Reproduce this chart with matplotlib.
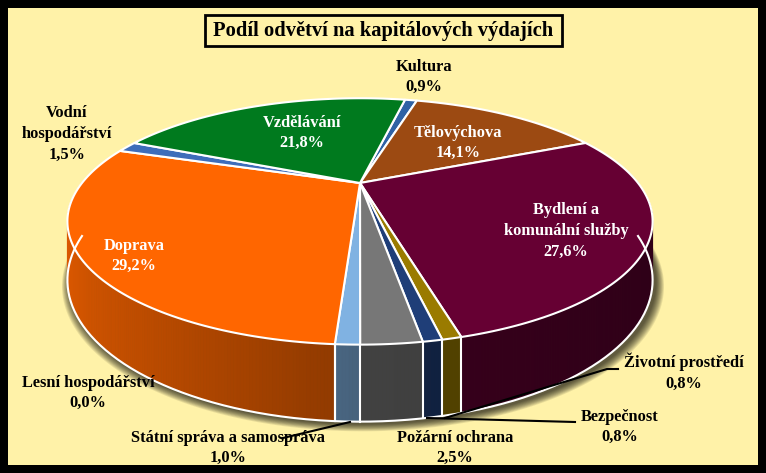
import numpy as np
import matplotlib.pyplot as plt
from matplotlib.patches import Polygon, Rectangle
from matplotlib.colors import to_rgb

# data, clockwise from the top
categories = ['Kultura', 'Tělovýchova', 'Bydlení a\nkomunální služby', 'Životní prostředí',
              'Bezpečnost', 'Požární ochrana', 'Státní správa a samospráva',
              'Lesní hospodářství', 'Doprava', 'Vodní\nhospodářství', 'Vzdělávání']
values = [0.9, 14.1, 27.6, 0.8, 0.8, 2.5, 1.0, 0.0, 29.2, 1.5, 21.8]
colors = ['#2F62A5', '#9C4A12', '#660033', '#9A7B00', '#1F3E78', '#777777',
          '#80B2E2', '#8DB3E2', '#FF6600', '#3E6DBA', '#007A1E']
title = 'Podíl odvětví na kapitálových výdajích'

# geometry of the tilted pie (pixels)
cx, cy, R, a, c, H = 360, 183, 278, 0.312, 0.40, 53
start = 12.2
bg = '#FFF2A8'
font = 'Liberation Serif'


def proj(phi, depth=0.0, r=R):
    p = np.radians(phi)
    w = 1 + a * np.cos(p)
    x = cx + r * np.sin(p) / w
    y = cy - c * r * np.cos(p) / w + depth * H / w
    return x, y


def shade(col, phi):
    s = np.sin(np.radians(phi))
    f = 0.55 + 0.33 * max(0, -s) - 0.1 * max(0, s)
    return tuple(np.array(to_rgb(col)) * f)


fig = plt.figure(figsize=(7.66, 4.73), dpi=100)
fig.patch.set_facecolor('black')
ax = fig.add_axes([0, 0, 1, 1])
ax.set_xlim(0, 766)
ax.set_ylim(473, 0)
ax.axis('off')
ax.add_patch(Rectangle((8, 8), 750, 457, fc=bg, ec='none'))

spans = 360 * np.array(values) / sum(values)
edges = start + np.concatenate([[0], np.cumsum(spans)])

# shadow
phis = np.linspace(0, 360, 361)
for k in range(10, 0, -1):
    sx, sy = proj(phis, 1, R + k * 0.8)
    ax.add_patch(Polygon(np.c_[sx + 3, sy + 2 + k * 0.3], closed=True, fc='black', ec='none', alpha=0.09))

# side strips, far to near
strips = []
for i, col in enumerate(colors):
    if spans[i] <= 0:
        continue
    lo, hi = edges[i], edges[i + 1]
    n = max(2, int((hi - lo) / 0.5) + 1)
    g = np.linspace(lo, hi, n)
    for p0, p1 in zip(g[:-1], g[1:]):
        m = (p0 + p1) / 2 % 360
        if 85 < m < 275:
            strips.append((np.cos(np.radians(m)), p0, p1, col))
strips.sort(key=lambda t: -t[0])
for _, p0, p1, col in strips:
    x0, y0 = proj(p0)
    x1, y1 = proj(p1)
    x2, y2 = proj(p1, 1)
    x3, y3 = proj(p0, 1)
    fc = shade(col, (p0 + p1) / 2)
    ax.add_patch(Polygon([(x0, y0), (x1, y1), (x2, y2), (x3, y3)], closed=True, fc=fc, ec=fc, lw=0.6))

# white outlines of the side
g = np.linspace(90, 270, 200)
bx, by = proj(g, 1)
ax.plot(bx, by, color='white', lw=1.5)
for e in edges:
    if 90 < e % 360 < 270:
        x0, y0 = proj(e)
        x1, y1 = proj(e, 1)
        ax.plot([x0, x1], [y0, y1], color='white', lw=1.5)

# top faces
for i, col in enumerate(colors):
    if spans[i] <= 0:
        continue
    g = np.linspace(edges[i], edges[i + 1], max(2, int(spans[i]) + 2))
    px, py = proj(g)
    pts = np.vstack([[cx, cy], np.c_[px, py]])
    ax.add_patch(Polygon(pts, closed=True, fc=col, ec='white', lw=1.5, joinstyle='round'))

# title
ax.add_patch(Rectangle((205, 15), 357, 31, fc=bg, ec='black', lw=2))
ax.text(383.5, 31, title, ha='center', va='center', fontsize=14.8, fontweight='bold',
        family=font, color='black')

# labels
pct = [f'{v:.1f}'.replace('.', ',') + '%' for v in values]
label_pos = {
    'Kultura': (424, 77, 'black'),
    'Tělovýchova': (458, 143, 'white'),
    'Bydlení a\nkomunální služby': (566, 231, 'white'),
    'Životní prostředí': (684, 372, 'black'),
    'Bezpečnost': (620, 427, 'black'),
    'Požární ochrana': (455, 448, 'black'),
    'Státní správa a samospráva': (228, 448, 'black'),
    'Lesní hospodářství': (88, 393, 'black'),
    'Doprava': (134, 256, 'white'),
    'Vodní\nhospodářství': (67, 134, 'black'),
    'Vzdělávání': (302, 133, 'white'),
}
for name, p in zip(categories, pct):
    x, y, tc = label_pos[name]
    ax.text(x, y, name + '\n' + p, ha='center', va='center', fontsize=11.8, fontweight='bold',
            family=font, color=tc, linespacing=1.38)

# leader lines
for xs, ys in [([618, 607, 445], [369, 369, 418]),
               ([575, 427], [422, 418]),
               ([283, 350], [438, 422])]:
    ax.plot(xs, ys, color='black', lw=1.5)

fig.savefig('out.png', dpi=100, facecolor=fig.get_facecolor())
